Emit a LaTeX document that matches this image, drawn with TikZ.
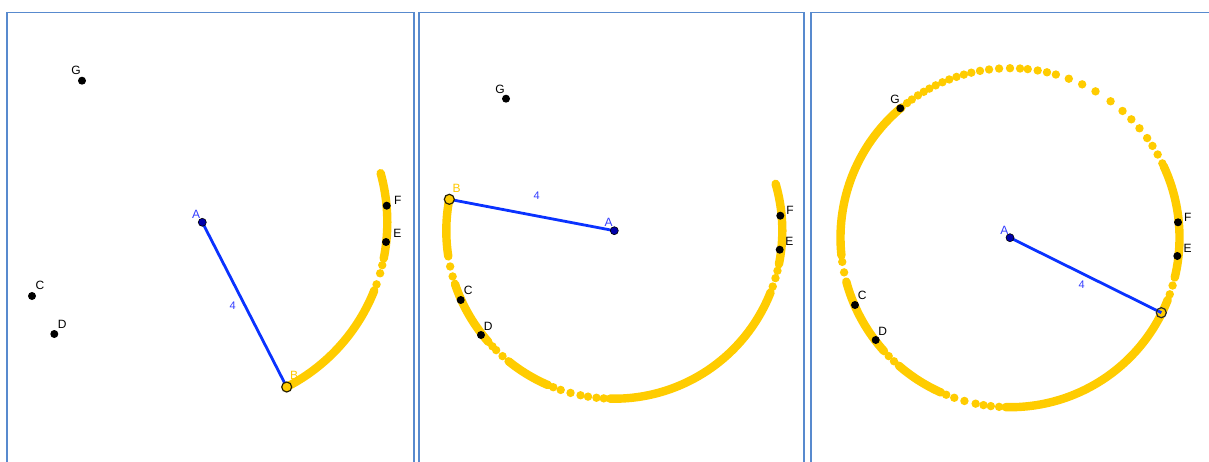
\documentclass[tikz,border=0pt]{standalone}
\usepackage{fontspec}
\setmainfont{Liberation Sans}
\definecolor{frameblue}{RGB}{88,138,206}
\definecolor{gold}{RGB}{255,204,0}
\definecolor{segblue}{RGB}{10,50,255}
\definecolor{lblblue}{RGB}{50,60,255}
\definecolor{ptblue}{RGB}{0,0,170}
\definecolor{lblgold}{RGB}{255,200,0}
\tikzset{
  frame/.style={draw=frameblue,line width=1.8pt},
  band/.style={draw=gold,line width=8.4pt,line cap=round},
  seg/.style={draw=segblue,line width=2.8pt},
  ptblack/.style={circle,fill=black,minimum size=8pt,inner sep=0pt},
  ptA/.style={circle,fill=ptblue,draw=black,line width=0.6pt,minimum size=8pt,inner sep=0pt},
  ptB/.style={circle,fill=gold,draw=black!85!gold,line width=1.2pt,minimum size=10pt,inner sep=0pt},
  ptBopen/.style={circle,draw=black!85,line width=1.2pt,minimum size=10pt,inner sep=0pt},
  lbl/.style={font=\fontsize{12}{13}\selectfont,inner sep=0pt,text=black},
  lblA/.style={lbl,text=lblblue},
  lblB/.style={lbl,text=lblgold},
  lblnum/.style={font=\fontsize{11}{12}\selectfont,inner sep=0pt,text=lblblue},
}
\newcommand{\yband}[5]{% cx cy r t1 t2
  \draw[band] plot[domain=#4:#5,samples=80,smooth] ({#1+#3*cos(\x)},{#2-#3*sin(\x)});}
\newcommand{\ydots}[4]{% cx cy r list
  \foreach \t in {#4} \fill[gold] ({#1+#3*cos(\t)},{#2-#3*sin(\t)}) circle (4.2pt);}
\begin{document}
\begin{tikzpicture}[x=1pt,y=-1pt]
\useasboundingbox (0,0) rectangle (1209,462);
% frames
\draw[frame] (7,463) -- (7,12.5) -- (414,12.5) -- (414,463);
\draw[frame] (419,463) -- (419,12.5) -- (804,12.5) -- (804,463);
\draw[frame] (811,463) -- (811,12.5) -- (1210,12.5);

% ---------------- panel 1 ----------------
\coordinate (A1) at (202.3,222.3);
\coordinate (B1) at (286.7,387);
\yband{202.3}{222.3}{185}{-62.9}{-21.6}
\ydots{202.3}{222.3}{185}{-19.6,-16,-13.4}
\yband{202.3}{222.3}{185}{-11.3}{15.4}
\draw[seg] (A1) -- (B1);
\node[ptblack] (G1) at (82,80.7) {};
\node[ptblack] (C1) at (32,296) {};
\node[ptblack] (D1) at (54.3,334) {};
\node[ptblack] (F1) at (386.7,205.7) {};
\node[ptblack] (E1) at (386,242) {};
\node[ptA] (PA1) at (A1) {};
\node[ptB] (PB1) at (B1) {};
\node[lbl] (lG1) at (76,70.7) {G};
\node[lbl] (lC1) at (40,285.7) {C};
\node[lbl] (lD1) at (62.3,324) {D};
\node[lbl] (lF1) at (397.7,200) {F};
\node[lbl] (lE1) at (397.3,233.3) {E};
\node[lblA] (lA1) at (196,214.3) {A};
\node[lblB] (lB1) at (294,375) {B};
\node[lblnum] (l41) at (232.7,306) {4};

% ---------------- panel 2 ----------------
\coordinate (A2) at (614.3,230.7);
\coordinate (B2) at (449.3,199.3);
\yband{614.3}{230.7}{168}{169.2}{188.8}
\ydots{614.3}{230.7}{168}{192.3,195.8}
\yband{614.3}{230.7}{168}{198.5}{221.5}
\ydots{614.3}{230.7}{168}{223.5,225.3,228.3}
\yband{614.3}{230.7}{168}{231}{246.8}
\ydots{614.3}{230.7}{168}{248.7,251.4,254.9,258.4,261,263.9,266.4}
\yband{614.3}{230.7}{168}{268.5}{338.5}
\ydots{614.3}{230.7}{168}{340.6,343.6,346.2}
\yband{614.3}{230.7}{168}{348.5}{376.2}
\draw[seg] (A2) -- (B2);
\node[ptblack] (G2) at (506,98.7) {};
\node[ptblack] (C2) at (460.7,300) {};
\node[ptblack] (D2) at (481,335) {};
\node[ptblack] (F2) at (780.3,215.7) {};
\node[ptblack] (E2) at (779.7,249.7) {};
\node[ptA] (PA2) at (A2) {};
\node[ptB] (PB2) at (B2) {};
\node[lbl] (lG2) at (500,89.3) {G};
\node[lbl] (lC2) at (468.3,290) {C};
\node[lbl] (lD2) at (488.3,326) {D};
\node[lbl] (lF2) at (790,210) {F};
\node[lbl] (lE2) at (789.3,241.7) {E};
\node[lblA] (lA2) at (608.7,222.7) {A};
\node[lblB] (lB2) at (456.7,188.3) {B};
\node[lblnum] (l42) at (536.7,196) {4};

% ---------------- panel 3 ----------------
\coordinate (A3) at (1010,237.7);
\coordinate (B3) at (1161.3,312.7);
\yband{1010}{237.7}{169.5}{268.5}{338.5}
\ydots{1010}{237.7}{169.5}{340.5,343.6}
\yband{1010}{237.7}{169.5}{346.4}{385}
\ydots{1010}{237.7}{169.5}{26,29.4,32.8,36,40.2,44.3,48.4,53.6,59.7,64.8,69.7,74.3,77.4,80.6,84,86.6,90,93.7,97.1,100.2,103.2,105.8,108.4,111,113.5,116,118.4,120.6,122.9,125.4,127.4}
\yband{1010}{237.7}{169.5}{129.8}{186}
\ydots{1010}{237.7}{169.5}{188.2,191.8}
\yband{1010}{237.7}{169.5}{195}{222}
\ydots{1010}{237.7}{169.5}{224.3,226.8}
\yband{1010}{237.7}{169.5}{229}{246}
\ydots{1010}{237.7}{169.5}{247.9,250.8,254.4,258.3,261,263.5,266.3}
\draw[seg] (A3) -- (B3);
\node[ptblack] (G3) at (900.3,108.3) {};
\node[ptblack] (C3) at (855,305) {};
\node[ptblack] (D3) at (875.7,340) {};
\node[ptblack] (F3) at (1178,222.3) {};
\node[ptblack] (E3) at (1177.3,256) {};
\node[ptA] (PA3) at (A3) {};
\node[ptBopen] (PB3) at (B3) {};
\node[lbl] (lG3) at (895,99) {G};
\node[lbl] (lC3) at (862.3,295.3) {C};
\node[lbl] (lD3) at (882.7,331) {D};
\node[lbl] (lF3) at (1187.7,217.3) {F};
\node[lbl] (lE3) at (1187.7,248.3) {E};
\node[lblA] (lA3) at (1004.3,230) {A};
\node[lblnum] (l43) at (1081.7,284.3) {4};
\end{tikzpicture}
\end{document}
